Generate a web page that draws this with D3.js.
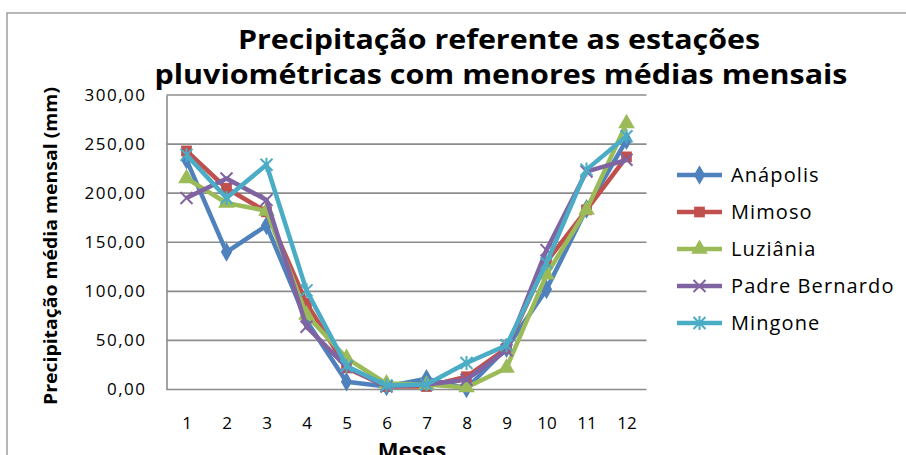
<!DOCTYPE html>
<html>
<head>
<meta charset="utf-8">
<script src="https://cdn.jsdelivr.net/npm/d3@7"></script>
<style>
  body { margin: 0; background: #fff; }
  svg text { font-family: "Open Sans", "Noto Sans", sans-serif; fill: #000; }
</style>
</head>
<body>
<div id="chart"></div>
<script>
// Precipitação média mensal - estações com menores médias
const months = [1, 2, 3, 4, 5, 6, 7, 8, 9, 10, 11, 12];
const yTicks = [0, 50, 100, 150, 200, 250, 300];

const anapolis      = [234, 140, 167, 70, 8, 3, 11, 1, 42, 102, 184, 254];
const mimoso        = [243, 205, 181, 88, 22, 3, 3, 13, 42, 130, 183, 237];
const luziania      = [215, 190, 182, 76, 32, 6, 5, 2, 22, 117, 183, 271];
const padreBernardo = [195, 215, 193, 64, 23, 3, 5, 10, 40, 142, 222, 234];
const mingone       = [239, 195, 229, 101, 24, 4, 5, 27, 45, 129, 224, 258];

const seriesNames = ['Anápolis', 'Mimoso', 'Luziânia', 'Padre Bernardo', 'Mingone'];
const seriesValues = [anapolis, mimoso, luziania, padreBernardo, mingone];
const colors = ['#4F81BD', '#C0504D', '#9BBB59', '#8064A2', '#4BACC6'];
const markers = ['diamond', 'square', 'triangle', 'x', 'star'];

const width = 906, height = 455;
const plot = {left: 166.5, right: 646.5, top: 95, bottom: 389.5};

const svg = d3.select('#chart').append('svg')
    .attr('width', width)
    .attr('height', height);

// outer chart border
svg.append('rect')
    .attr('x', 7).attr('y', 13)
    .attr('width', 920).attr('height', 460)
    .attr('fill', 'none')
    .attr('stroke', '#868686')
    .attr('stroke-width', 1.2);

const x = d3.scalePoint()
    .domain(months)
    .range([plot.left, plot.right])
    .padding(0.5);

const y = d3.scaleLinear()
    .domain([0, 300])
    .range([plot.bottom, plot.top]);

// gridlines
svg.append('g')
    .selectAll('line')
    .data(yTicks.filter(d => d > 0))
    .enter()
    .append('line')
    .attr('x1', plot.left).attr('x2', plot.right)
    .attr('y1', d => y(d)).attr('y2', d => y(d))
    .attr('stroke', '#8c8c8c')
    .attr('stroke-width', 1.6);

// y axis
const yAxis = svg.append('g')
    .attr('transform', `translate(${plot.left},0)`)
    .call(d3.axisLeft(y).tickValues(yTicks).tickSize(0).tickPadding(20)
        .tickFormat(d => d3.format('.2f')(d).replace('.', ',')));
yAxis.select('.domain').attr('stroke', '#8c8c8c').attr('stroke-width', 1.6);
yAxis.selectAll('text')
    .attr('font-size', '17px')
    .attr('letter-spacing', '1.5px')
    .attr('font-family', '"Open Sans", sans-serif');

// x axis
const xAxis = svg.append('g')
    .attr('transform', `translate(0,${plot.bottom})`)
    .call(d3.axisBottom(x).tickSize(0).tickPadding(27));
xAxis.select('.domain').attr('stroke', '#8c8c8c').attr('stroke-width', 1.6)
    .attr('d', `M${plot.left},0H${plot.right}`);
xAxis.selectAll('text').attr('font-size', '17px').attr('font-family', '"Open Sans", sans-serif');

// markers
function drawMarker(g, type, color) {
    if (type === 'diamond') {
        g.append('path').attr('d', d3.symbol(d3.symbolDiamond, 110)()).attr('fill', color);
    } else if (type === 'square') {
        g.append('path').attr('d', d3.symbol(d3.symbolSquare, 115)()).attr('fill', color);
    } else if (type === 'triangle') {
        g.append('path').attr('d', d3.symbol(d3.symbolTriangle, 120)()).attr('fill', color);
    } else if (type === 'x') {
        g.append('path').attr('d', 'M-6,-6L6,6M-6,6L6,-6')
            .attr('stroke', color).attr('stroke-width', 2).attr('fill', 'none');
    } else {
        g.append('path').attr('d', 'M-6,-6L6,6M-6,6L6,-6M0,-7L0,7')
            .attr('stroke', color).attr('stroke-width', 2).attr('fill', 'none');
    }
}

const line = d3.line()
    .x((d, i) => x(months[i]))
    .y(d => y(d));

seriesValues.forEach((vals, s) => {
    const g = svg.append('g');
    g.append('path')
        .datum(vals)
        .attr('d', line)
        .attr('fill', 'none')
        .attr('stroke', colors[s])
        .attr('stroke-width', 4.5)
        .attr('stroke-linejoin', 'round');
    vals.forEach((v, i) => {
        const m = g.append('g').attr('transform', `translate(${x(months[i])},${y(v)})`);
        drawMarker(m, markers[s], colors[s]);
    });
});

// legend
const legend = svg.append('g');
seriesNames.forEach((name, s) => {
    const ly = 175 + s * 37;
    legend.append('line')
        .attr('x1', 677).attr('x2', 722)
        .attr('y1', ly).attr('y2', ly)
        .attr('stroke', colors[s]).attr('stroke-width', 4.5);
    const m = legend.append('g').attr('transform', `translate(699.5,${ly})`);
    drawMarker(m, markers[s], colors[s]);
    legend.append('text')
        .attr('x', 731).attr('y', ly)
        .attr('dy', '0.35em')
        .attr('font-size', '20px')
        .attr('letter-spacing', '1.1px')
        .text(name);
});

// titles
svg.append('text')
    .attr('x', 499).attr('y', 49)
    .attr('text-anchor', 'middle')
    .attr('font-family', 'Lato, "Open Sans", sans-serif')
    .attr('font-size', '26px').attr('font-weight', 'bold')
    .attr('textLength', 522).attr('lengthAdjust', 'spacingAndGlyphs')
    .text('Precipitação referente as estações');

svg.append('text')
    .attr('x', 501).attr('y', 84)
    .attr('text-anchor', 'middle')
    .attr('font-family', 'Lato, "Open Sans", sans-serif')
    .attr('font-size', '26px').attr('font-weight', 'bold')
    .attr('textLength', 693).attr('lengthAdjust', 'spacingAndGlyphs')
    .text('pluviométricas com menores médias mensais');

svg.append('text')
    .attr('transform', 'rotate(-90)')
    .attr('x', -246).attr('y', 51)
    .attr('dy', '0.35em')
    .attr('text-anchor', 'middle')
    .attr('font-family', 'Lato, "Open Sans", sans-serif')
    .attr('font-size', '18px').attr('font-weight', 'bold')
    .attr('textLength', 318).attr('lengthAdjust', 'spacingAndGlyphs')
    .text('Precipitação média mensal (mm)');

svg.append('text')
    .attr('x', 412).attr('y', 458)
    .attr('text-anchor', 'middle')
    .attr('font-family', 'Lato, "Open Sans", sans-serif')
    .attr('font-size', '22px').attr('font-weight', 'bold')
    .text('Meses');
</script>
</body>
</html>
